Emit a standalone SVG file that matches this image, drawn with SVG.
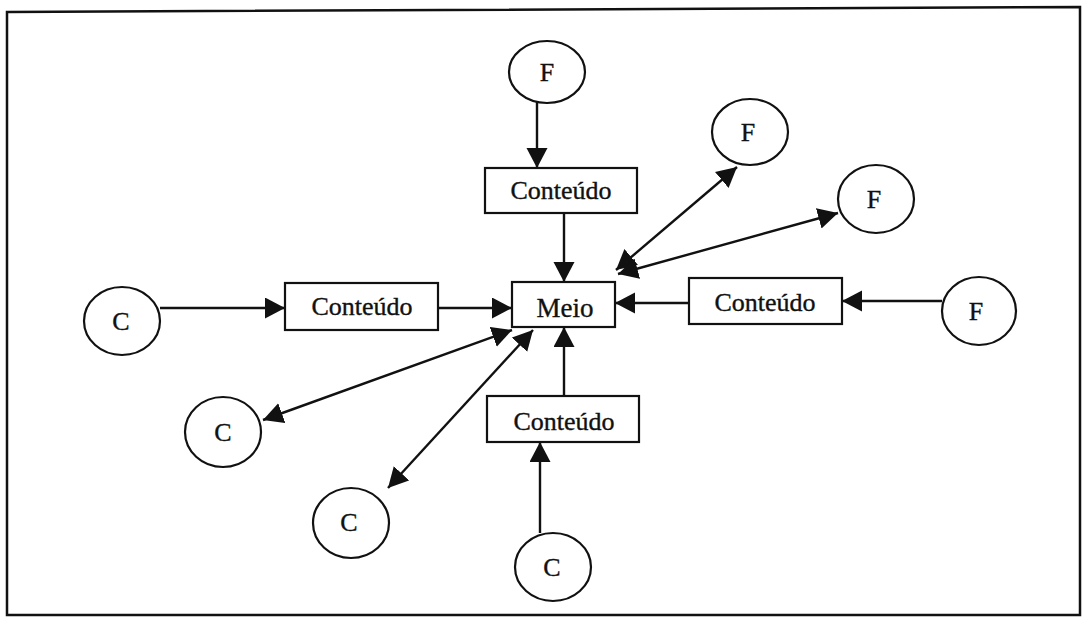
<svg xmlns="http://www.w3.org/2000/svg" width="1083" height="617" viewBox="0 0 1083 617">
  <style>
    .frame { fill: none; stroke: #111; stroke-width: 2.5; }
    .node { fill: #fff; stroke: #111; stroke-width: 2.2; }
    .lbl { font-family: "Liberation Serif", "Times New Roman", serif; font-size: 26px; fill: #111; stroke: #111; stroke-width: 0.35; text-anchor: middle; }
    .big { font-size: 27px; }
    .edge { fill: none; stroke: #111; stroke-width: 2.4; }
    .one { marker-end: url(#head); }
    .two { marker-start: url(#head); marker-end: url(#head); }
  </style>
  <defs>
    <marker id="head" markerUnits="userSpaceOnUse" markerWidth="22" markerHeight="22" refX="20" refY="10.5" orient="auto-start-reverse">
      <path d="M0,0 L20,10.5 L0,21 z" fill="#111"/>
    </marker>
  </defs>

  <rect width="1083" height="617" fill="#fff"/>
  <path class="frame" d="M7,12 L1080,7 L1080,615 L7,615 Z"/>

  <!-- connectors -->
  <g id="connectors">
    <line class="edge one" x1="537" y1="102" x2="537" y2="168"/>
    <line class="edge one" x1="564" y1="213" x2="564" y2="282"/>
    <line class="edge one" x1="160" y1="308" x2="285" y2="308"/>
    <line class="edge one" x1="438" y1="308" x2="512" y2="308"/>
    <line class="edge one" x1="942" y1="301" x2="842" y2="301"/>
    <line class="edge one" x1="689" y1="303" x2="615" y2="303"/>
    <line class="edge one" x1="564" y1="396" x2="564" y2="327"/>
    <line class="edge one" x1="540" y1="533" x2="540" y2="442"/>
    <line class="edge two" x1="616" y1="270" x2="737" y2="167"/>
    <line class="edge two" x1="618" y1="274" x2="838" y2="213"/>
    <line class="edge two" x1="512" y1="330" x2="263" y2="420"/>
    <line class="edge two" x1="533" y1="330" x2="388" y2="488"/>
  </g>

  <!-- central medium -->
  <g id="meio">
    <rect class="node" x="512" y="282" width="103" height="45"/>
    <text class="lbl big" x="565" y="317">Meio</text>
  </g>

  <!-- content boxes -->
  <g id="conteudo-top">
    <rect class="node" x="485" y="168" width="152" height="45"/>
    <text class="lbl" x="561" y="199">Conteúdo</text>
  </g>
  <g id="conteudo-left">
    <rect class="node" x="285" y="283" width="153" height="47"/>
    <text class="lbl" x="362" y="315">Conteúdo</text>
  </g>
  <g id="conteudo-right">
    <rect class="node" x="689" y="278" width="153" height="46"/>
    <text class="lbl" x="765" y="311">Conteúdo</text>
  </g>
  <g id="conteudo-bottom">
    <rect class="node" x="487" y="396" width="152" height="46"/>
    <text class="lbl" x="564" y="430">Conteúdo</text>
  </g>

  <!-- sources (F) -->
  <g id="f-top">
    <ellipse class="node" cx="547" cy="72" rx="38" ry="31"/>
    <text class="lbl" x="547" y="81">F</text>
  </g>
  <g id="f-upper">
    <ellipse class="node" cx="750" cy="132" rx="38" ry="33"/>
    <text class="lbl" x="748" y="141">F</text>
  </g>
  <g id="f-mid">
    <ellipse class="node" cx="876" cy="199" rx="38" ry="34"/>
    <text class="lbl" x="874" y="208">F</text>
  </g>
  <g id="f-right">
    <ellipse class="node" cx="979" cy="311" rx="37" ry="34"/>
    <text class="lbl" x="976" y="320">F</text>
  </g>

  <!-- consumers (C) -->
  <g id="c-left">
    <ellipse class="node" cx="122" cy="321" rx="38" ry="34"/>
    <text class="lbl" x="121" y="330">C</text>
  </g>
  <g id="c-lowleft">
    <ellipse class="node" cx="223" cy="432" rx="38" ry="35"/>
    <text class="lbl" x="223" y="441">C</text>
  </g>
  <g id="c-low">
    <ellipse class="node" cx="351" cy="523" rx="38" ry="35"/>
    <text class="lbl" x="349" y="531">C</text>
  </g>
  <g id="c-bottom">
    <ellipse class="node" cx="553" cy="567" rx="38" ry="34"/>
    <text class="lbl" x="552" y="576">C</text>
  </g>
</svg>
